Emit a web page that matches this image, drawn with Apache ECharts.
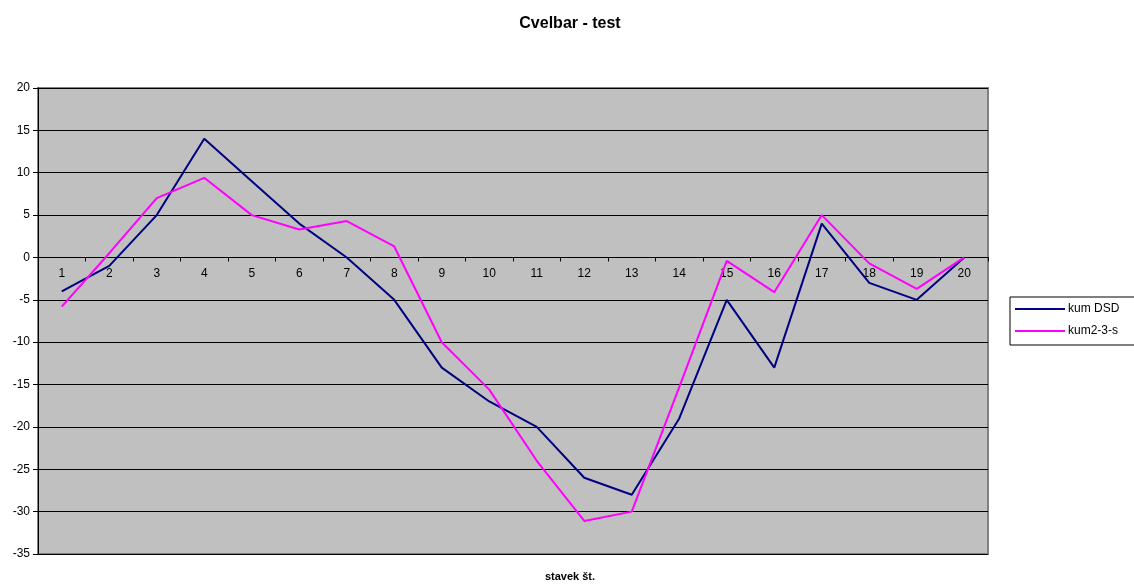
<!DOCTYPE html>
<html>
<head>
<meta charset="utf-8">
<script src="https://cdn.jsdelivr.net/npm/echarts@6/dist/echarts.min.js"></script>
<style>html,body{margin:0;padding:0;background:#fff;}#c{width:1134px;height:588px;}</style>
</head>
<body>
<div id="c"></div>
<script>
const categories = ['1','2','3','4','5','6','7','8','9','10','11','12','13','14','15','16','17','18','19','20'];
const kumDSD = [-4, -1, 5, 14, 9, 4, 0, -5, -13, -17, -20, -26, -28, -19, -5, -13, 4, -3, -5, 0];
const kum23s = [-5.8, 0.5, 7, 9.4, 5, 3.3, 4.3, 1.3, -10, -15.6, -24, -31.1, -30, -15.3, -0.4, -4.1, 5, -0.7, -3.7, 0];
const seriesNames = ['kum DSD', 'kum2-3-s'];
const yTicks = {min: -35, max: 20, interval: 5};
const FONT = 'Liberation Sans, Arial, sans-serif';

const gridTop = 88, gridHeight = 466;
const zeroOffset = -gridHeight * (0 - yTicks.min) / (yTicks.max - yTicks.min);

const chart = echarts.init(document.getElementById('c'), null, {renderer: 'canvas'});
chart.setOption({
  animation: false,
  backgroundColor: '#ffffff',
  title: [
    {text: 'Cvelbar - test', left: 565, top: 11, textAlign: 'center',
     textStyle: {fontFamily: FONT, fontSize: 16, fontWeight: 'bold', color: '#000'}},
    {text: 'stavek št.', left: 565, top: 566, textAlign: 'center',
     textStyle: {fontFamily: FONT, fontSize: 11, fontWeight: 'bold', color: '#000'}}
  ],
  grid: {left: 38, top: gridTop, width: 950, height: gridHeight, show: true,
         backgroundColor: '#c0c0c0', borderColor: '#808080', borderWidth: 2},
  legend: {
    orient: 'vertical', left: 1010, top: 297,
    padding: [6, 20, 8, 5], itemGap: 10,
    borderColor: '#000', borderWidth: 1, backgroundColor: '#fff',
    icon: 'rect', itemWidth: 50, itemHeight: 2,
    textStyle: {fontFamily: FONT, fontSize: 12, color: '#000', padding: [0, 0, 0, -2]},
    data: seriesNames
  },
  xAxis: {
    type: 'category', data: categories, boundaryGap: true,
    position: 'bottom', offset: zeroOffset,
    axisLine: {onZero: false, lineStyle: {color: '#000', width: 1}},
    axisTick: {show: true, length: 4, lineStyle: {color: '#000'}},
    axisLabel: {fontFamily: FONT, fontSize: 12, color: '#000', margin: 10},
    splitLine: {show: false}
  },
  yAxis: {
    type: 'value', min: yTicks.min, max: yTicks.max, interval: yTicks.interval,
    axisLine: {show: true, onZero: false, lineStyle: {color: '#000'}},
    axisTick: {show: true, length: 5, lineStyle: {color: '#000'}},
    axisLabel: {fontFamily: FONT, fontSize: 12, color: '#000', margin: 8},
    splitLine: {show: true, lineStyle: {color: '#000', width: 1}}
  },
  series: [
    {name: seriesNames[0], type: 'line', data: kumDSD, symbol: 'none',
     lineStyle: {color: '#000080', width: 2}, itemStyle: {color: '#000080'}},
    {name: seriesNames[1], type: 'line', data: kum23s, symbol: 'none',
     lineStyle: {color: '#ff00ff', width: 2}, itemStyle: {color: '#ff00ff'}}
  ]
});
</script>
</body>
</html>
